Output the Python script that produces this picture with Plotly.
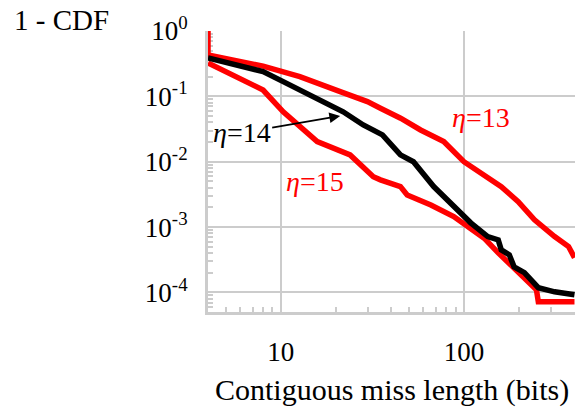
import plotly.graph_objects as go

# ---- data ----
eta13_x = [4, 4, 8, 12.7, 21.1, 29.7, 35, 45.1, 58, 77.6, 100, 129, 160, 198, 243, 313, 373, 402]
eta13_y = [1.0, 0.43, 0.29, 0.20, 0.118, 0.083, 0.0658, 0.0463, 0.0306, 0.0203, 0.0100,
           0.00628, 0.00416, 0.00245, 0.00129, 0.000716, 0.000504, 0.00034]

eta14_x = [4, 8, 10.3, 14.4, 21.9, 28.2, 35.9, 45, 53, 68.4, 88, 109, 135, 154, 160, 177,
           188, 214, 255, 313, 402]
eta14_y = [0.386, 0.239, 0.168, 0.105, 0.058, 0.0365, 0.0257, 0.0127, 0.0100, 0.00416,
           0.00206, 0.00116, 0.000716, 0.000637, 0.000448, 0.000376, 0.000246, 0.000200,
           0.000118, 0.000102, 0.0000918]

eta15_x = [4, 8, 10.3, 15.8, 23.9, 32, 35, 45, 49, 66, 88, 109, 129, 154, 175, 206, 249,
           255, 402]
eta15_y = [0.324, 0.125, 0.058, 0.0203, 0.0127, 0.0059, 0.00527, 0.00416, 0.0031, 0.00218,
           0.00145, 0.00096, 0.000676, 0.000403, 0.000284, 0.000173, 0.00011, 0.0000718,
           0.0000718]

x_tickvals = [10, 100]
x_ticktext = ["10", "100"]
y_tickvals = [1, 0.1, 0.01, 0.001, 0.0001]
y_ticktext = ["10<sup>0</sup>", "10<sup>-1</sup>", "10<sup>-2</sup>", "10<sup>-3</sup>", "10<sup>-4</sup>"]

x_minor = [4, 5, 6, 7, 8, 9, 20, 30, 40, 50, 60, 70, 80, 90, 200, 300, 400]
y_minor = [m * 10 ** e for e in range(-5, 0) for m in range(2, 10)]

FONT = "Liberation Serif"
AX = "#cccccc"

fig = go.Figure()
fig.add_trace(go.Scatter(x=eta13_x, y=eta13_y, mode="lines", cliponaxis=False,
                         line=dict(color="#ff0000", width=5.5)))
fig.add_trace(go.Scatter(x=eta15_x, y=eta15_y, mode="lines", cliponaxis=False,
                         line=dict(color="#ff0000", width=5.5)))
fig.add_trace(go.Scatter(x=eta14_x, y=eta14_y, mode="lines", cliponaxis=False,
                         line=dict(color="#000000", width=5.5)))

fig.update_layout(
    width=575, height=411,
    margin=dict(l=208, r=0, t=31, b=99, autoexpand=False),
    paper_bgcolor="white", plot_bgcolor="white",
    showlegend=False,
    font=dict(family=FONT, size=27, color="black"),
)

fig.update_xaxes(
    type="log", range=[0.602, 2.607], automargin=False, layer="below traces",
    tickvals=x_tickvals, ticktext=x_ticktext,
    showgrid=True, gridcolor=AX, gridwidth=1.5,
    showline=True, linecolor=AX, linewidth=3,
    ticks="inside", ticklen=10, tickwidth=2, tickcolor=AX,
    ticklabelstandoff=14,
    minor=dict(tickvals=x_minor, ticks="inside", ticklen=5, tickwidth=2,
               tickcolor=AX, showgrid=False),
    zeroline=False,
    tickfont=dict(family=FONT, size=27),
)
fig.update_yaxes(
    type="log", range=[-4.3, 0], automargin=False, layer="below traces",
    tickvals=y_tickvals, ticktext=y_ticktext,
    showgrid=True, gridcolor=AX, gridwidth=1.5,
    showline=True, linecolor=AX, linewidth=3,
    ticks="inside", ticklen=10, tickwidth=2, tickcolor=AX,
    ticklabelstandoff=12,
    minor=dict(tickvals=y_minor, ticks="inside", ticklen=5, tickwidth=2,
               tickcolor=AX, showgrid=False),
    zeroline=False,
    tickfont=dict(family=FONT, size=27),
)

fig.add_annotation(text="Contiguous miss length (bits)", xref="paper", yref="paper",
                   x=0.5, y=-0.278, xanchor="center", yanchor="middle", showarrow=False,
                   font=dict(family=FONT, size=30, color="black"))
fig.add_annotation(text="1 - CDF", xref="paper", yref="paper", x=-0.535, y=1.04,
                   xanchor="left", yanchor="middle", showarrow=False,
                   font=dict(family=FONT, size=29, color="black"))
fig.add_annotation(text="<i>η</i>=13", x=2.093, y=-1.33, xref="x", yref="y",
                   showarrow=False, font=dict(family=FONT, size=28, color="#ff0000"))
fig.add_annotation(text="<i>η</i>=15", x=1.187, y=-2.309, xref="x", yref="y",
                   showarrow=False, font=dict(family=FONT, size=28, color="#ff0000"))
fig.add_annotation(text="<i>η</i>=14", x=1.324, y=-1.30, xref="x", yref="y",
                   ax=0.786, ay=-1.56, axref="x", ayref="y",
                   showarrow=True, arrowhead=2, arrowsize=1.2, arrowwidth=1.8,
                   arrowcolor="black", font=dict(family=FONT, size=28, color="black"))

fig.write_html("out.html", config={"displayModeBar": False},
               post_script="document.body.style.margin='0';")
